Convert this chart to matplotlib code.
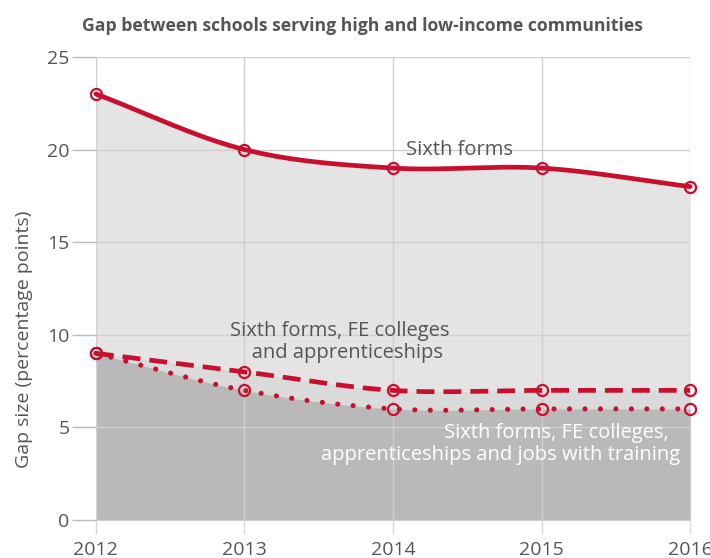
import numpy as np
import matplotlib
matplotlib.use("Agg")
import matplotlib.pyplot as plt

years = [2012, 2013, 2014, 2015, 2016]
sixth_forms = [23, 20, 19, 19, 18]
sixth_fe_app = [9, 8, 7, 7, 7]
sixth_fe_app_jobs = [9, 7, 6, 6, 6]
yticks = [0, 5, 10, 15, 20, 25]

plt.rcParams['font.family'] = ['Open Sans', 'DejaVu Sans']

RED = '#c8102e'
GREY_TXT = '#555555'


def smooth(x, y, n=60):
    """Catmull-Rom style cubic Hermite through the data points (drawing only)."""
    x = np.asarray(x, float); y = np.asarray(y, float)
    h = np.diff(x)
    m = np.zeros_like(y)
    m[0] = (y[1] - y[0]) / (x[1] - x[0])
    m[-1] = (y[-1] - y[-2]) / (x[-1] - x[-2])
    for i in range(1, len(y) - 1):
        m[i] = (y[i + 1] - y[i - 1]) / (x[i + 1] - x[i - 1])
    xs, ys = [], []
    for i in range(len(x) - 1):
        t = np.linspace(0, 1, n, endpoint=(i == len(x) - 2))
        h00 = 2 * t**3 - 3 * t**2 + 1; h10 = t**3 - 2 * t**2 + t
        h01 = -2 * t**3 + 3 * t**2; h11 = t**3 - t**2
        xs.append(x[i] + t * h[i])
        ys.append(h00 * y[i] + h10 * h[i] * m[i] + h01 * y[i + 1] + h11 * h[i] * m[i + 1])
    return np.concatenate(xs), np.concatenate(ys)


fig = plt.figure(figsize=(7.1, 5.58), dpi=100)
ax = fig.add_axes([0.135, 0.068, 0.837, 0.83])

xs1, ys1 = smooth(years, sixth_forms)
xs2, ys2 = smooth(years, sixth_fe_app)
xs3, ys3 = smooth(years, sixth_fe_app_jobs)

ax.fill_between(xs1, 0, ys1, color='#e4e4e4', lw=0, zorder=1)
ax.fill_between(xs2, 0, ys2, color='#dadada', lw=0, zorder=1)
ax.fill_between(xs3, 0, ys3, color='#b9b9b9', lw=0, zorder=1)

ax.plot(xs1, ys1, color=RED, lw=3.4, solid_capstyle='round', zorder=3, clip_on=False)
ax.plot(xs2, ys2, color=RED, lw=3.4, ls=(0, (3.8, 1.9)), zorder=3, clip_on=False)
ax.plot(xs3, ys3, color=RED, lw=3.7, ls=(0, (0.01, 3.0)), dash_capstyle='round', zorder=3, clip_on=False)

for ser in (sixth_forms, sixth_fe_app, sixth_fe_app_jobs):
    ax.plot(years, ser, ls='none', marker='o', ms=8, mfc='none', mec=RED, mew=1.6,
            zorder=4, clip_on=False)

ax.set_xlim(2012, 2016)
ax.set_ylim(0, 25)
ax.set_xticks(years)
ax.set_xticklabels([str(y) for y in years])
ax.set_yticks(yticks)

for s in ax.spines.values():
    s.set_visible(False)

ax.grid(True, color='#cfcfcf', lw=1, zorder=2)
ax.set_axisbelow(False)
ax.tick_params(axis='y', length=17, width=1, color='#bbbbbb', labelsize=14,
               labelcolor=GREY_TXT, pad=2)
ax.tick_params(axis='x', length=10, width=1, color='#d8d8d8', labelsize=14,
               labelcolor=GREY_TXT, pad=5)
for gl in ax.get_xgridlines() + ax.get_ygridlines():
    gl.set_zorder(2)

ax.set_ylabel('Gap size (percentage points)', fontsize=14, color=GREY_TXT)
ax.yaxis.set_label_coords(-0.105, 0.39)

fig.text(0.51, 0.953, 'Gap between schools serving high and low-income communities',
         ha='center', va='center', fontsize=12.7, fontweight='bold', color=GREY_TXT)

ax.text(2014.45, 20.0, 'Sixth forms', ha='center', va='center', fontsize=14.5,
        color=GREY_TXT, zorder=5)
ax.text(2013.64, 9.6, 'Sixth forms, FE colleges\n   and apprenticeships', ha='center',
        va='center', fontsize=14.5, color=GREY_TXT, linespacing=1.15, zorder=5)
ax.text(2015.93, 4.1, 'Sixth forms, FE colleges,  \napprenticeships and jobs with training',
        ha='right', va='center', fontsize=14.5, color='white', linespacing=1.15,
        multialignment='right', zorder=5)

fig.savefig('out.png', dpi=100)
